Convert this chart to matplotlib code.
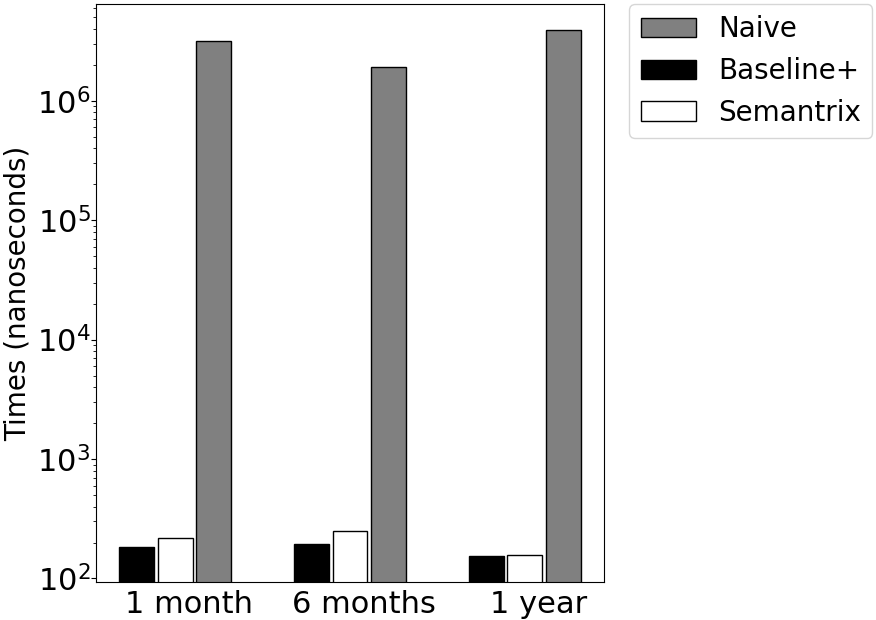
import numpy as np
import matplotlib
matplotlib.use("Agg")
import matplotlib.pyplot as plt

# ---- data ----
periods = ["1 month", "6 months", "1 year"]
baseline_plus = [185, 193, 155]
semantrix = [217, 250, 157]
naive = [3.2e6, 1.92e6, 3.9e6]

plt.rcParams["font.family"] = ["DejaVu Sans"]

fig = plt.figure(figsize=(8.76, 6.2), dpi=100)
ax = fig.add_axes([96 / 876, 1 - 582 / 620, 508 / 876, 578 / 620])

x = np.arange(len(periods))
w = 0.2
step = 0.22

b1 = ax.bar(x - step, baseline_plus, w, color="black", edgecolor="black", linewidth=1, label="Baseline+")
b2 = ax.bar(x, semantrix, w, color="white", edgecolor="black", linewidth=1, label="Semantrix")
b3 = ax.bar(x + step, naive, w, color="grey", edgecolor="black", linewidth=1, label="Naive")

ax.set_yscale("log")
ax.set_xticks(x + 0.08)
ax.set_xticklabels(periods, fontsize=22)
ax.tick_params(axis="x", length=0, pad=6)
ax.tick_params(axis="y", labelsize=22, pad=0.5)
ax.set_ylabel("Times (nanoseconds)", fontsize=20)

ax.legend([b3, b1, b2], ["Naive", "Baseline+", "Semantrix"], fontsize=20,
          loc="upper left", bbox_to_anchor=(1.05, 1), borderaxespad=0)

fig.savefig("out.png", dpi=100)
